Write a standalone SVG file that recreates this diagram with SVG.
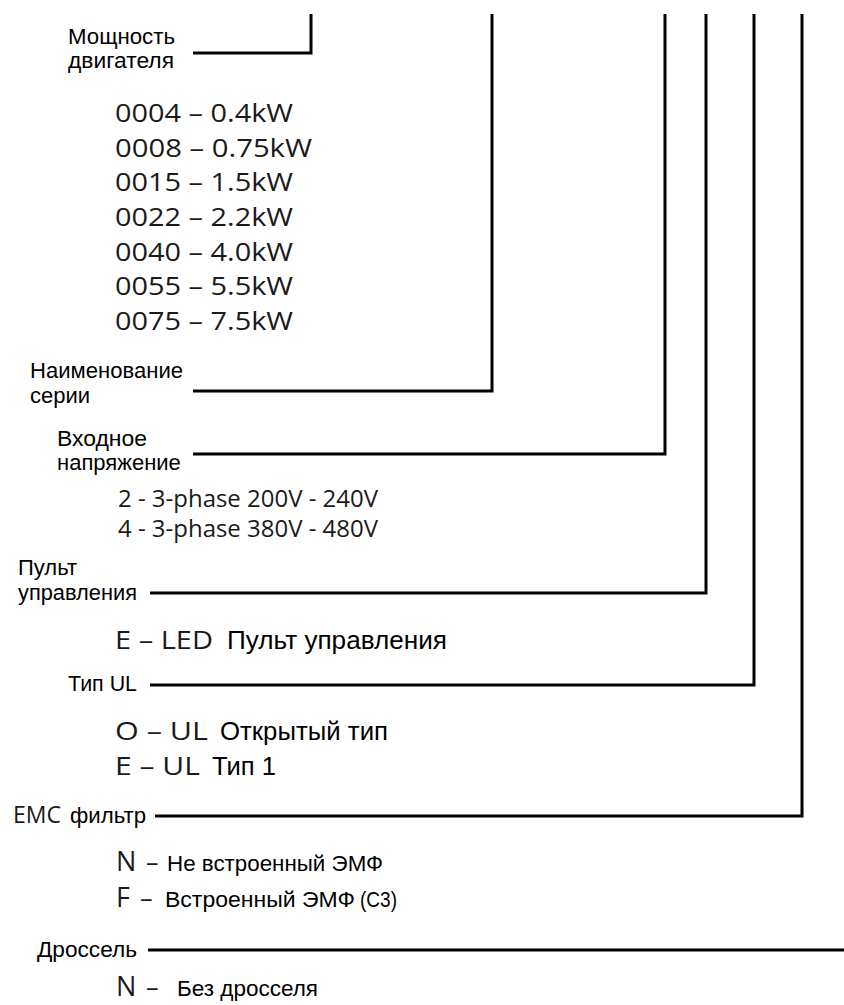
<svg xmlns="http://www.w3.org/2000/svg" width="844" height="1005" viewBox="0 0 844 1005">
<style>
.lbl{font-family:"Liberation Sans",Arial,sans-serif;font-size:22px;fill:#000}
.code{font-family:"Open Sans","Noto Sans",sans-serif;font-size:25px;fill:#1a1a1a}
.volt{font-family:"Open Sans","Noto Sans",sans-serif;font-size:24px;fill:#1a1a1a}
.desc{font-family:"Liberation Sans",Arial,sans-serif;font-size:25px;fill:#000}
.big{font-family:"Open Sans","Noto Sans",sans-serif;font-size:27px;fill:#1a1a1a}
.conn{fill:none;stroke:#000;stroke-width:3;stroke-linejoin:miter}
</style>
<rect width="844" height="1005" fill="#fff"/>
<g id="connectors">
<polyline class="conn" points="193,53 311,53 311,14"/>
<polyline class="conn" points="193,391 492,391 492,14"/>
<polyline class="conn" points="193,454 665,454 665,14"/>
<polyline class="conn" points="150,593 706,593 706,14"/>
<polyline class="conn" points="150,685 754,685 754,14"/>
<polyline class="conn" points="155,816 802,816 802,14"/>
<line class="conn" x1="148" y1="950" x2="844" y2="950"/>
</g>
<g id="power">
<text class="lbl" x="68" y="44" textLength="107" lengthAdjust="spacingAndGlyphs">Мощность</text>
<text class="lbl" x="68" y="68" textLength="106" lengthAdjust="spacingAndGlyphs">двигателя</text>
<text class="code" x="115" y="122" textLength="178" lengthAdjust="spacingAndGlyphs">0004 – 0.4kW</text>
<text class="code" x="115" y="157" textLength="197" lengthAdjust="spacingAndGlyphs">0008 – 0.75kW</text>
<text class="code" x="115" y="191" textLength="178" lengthAdjust="spacingAndGlyphs">0015 – 1.5kW</text>
<text class="code" x="115" y="226" textLength="178" lengthAdjust="spacingAndGlyphs">0022 – 2.2kW</text>
<text class="code" x="115" y="261" textLength="178" lengthAdjust="spacingAndGlyphs">0040 – 4.0kW</text>
<text class="code" x="115" y="295" textLength="178" lengthAdjust="spacingAndGlyphs">0055 – 5.5kW</text>
<text class="code" x="115" y="330" textLength="178" lengthAdjust="spacingAndGlyphs">0075 – 7.5kW</text>
</g>
<g id="series">
<text class="lbl" x="30" y="378" textLength="153" lengthAdjust="spacingAndGlyphs">Наименование</text>
<text class="lbl" x="30" y="403">серии</text>
</g>
<g id="voltage">
<text class="lbl" x="57" y="446" textLength="90" lengthAdjust="spacingAndGlyphs">Входное</text>
<text class="lbl" x="57" y="470">напряжение</text>
<text class="volt" x="118" y="507" textLength="260" lengthAdjust="spacingAndGlyphs">2 - 3-phase 200V - 240V</text>
<text class="volt" x="118" y="537" textLength="260" lengthAdjust="spacingAndGlyphs">4 - 3-phase 380V - 480V</text>
</g>
<g id="panel">
<text class="lbl" x="18" y="575">Пульт</text>
<text class="lbl" x="18" y="600" textLength="119" lengthAdjust="spacingAndGlyphs">управления</text>
<text class="code" x="115" y="649" textLength="98" lengthAdjust="spacingAndGlyphs">E – LED</text>
<text class="desc" x="227" y="649" textLength="220" lengthAdjust="spacingAndGlyphs">Пульт управления</text>
</g>
<g id="ultype">
<text class="lbl" x="68" y="691" textLength="69" lengthAdjust="spacingAndGlyphs">Тип UL</text>
<text class="code" x="115" y="740" textLength="93" lengthAdjust="spacingAndGlyphs">O – UL</text>
<text class="desc" x="220" y="740" textLength="168" lengthAdjust="spacingAndGlyphs">Открытый тип</text>
<text class="code" x="115" y="775" textLength="85" lengthAdjust="spacingAndGlyphs">E – UL</text>
<text class="desc" x="212" y="775" textLength="64" lengthAdjust="spacingAndGlyphs">Тип 1</text>
</g>
<g id="emc">
<text class="volt" x="13" y="823" textLength="48" lengthAdjust="spacingAndGlyphs">EMC</text>
<text class="lbl" x="70" y="823" textLength="76" lengthAdjust="spacingAndGlyphs">фильтр</text>
<text class="big" x="116" y="871">N</text>
<text class="code" x="146" y="871">–</text>
<text class="lbl" x="167" y="871" textLength="216" lengthAdjust="spacingAndGlyphs">Не встроенный ЭМФ</text>
<text class="big" x="116" y="907">F</text>
<text class="code" x="140" y="907">–</text>
<text class="lbl" x="165" y="907" textLength="190" lengthAdjust="spacingAndGlyphs">Встроенный ЭМФ</text>
<text class="lbl" x="360" y="907" font-size="20" textLength="37" lengthAdjust="spacingAndGlyphs">(C3)</text>
</g>
<g id="choke">
<text class="lbl" x="37" y="957" textLength="100" lengthAdjust="spacingAndGlyphs">Дроссель</text>
<text class="big" x="116" y="996">N</text>
<text class="code" x="146" y="996">–</text>
<text class="lbl" x="177" y="996" textLength="141" lengthAdjust="spacingAndGlyphs">Без дросселя</text>
</g>
</svg>
